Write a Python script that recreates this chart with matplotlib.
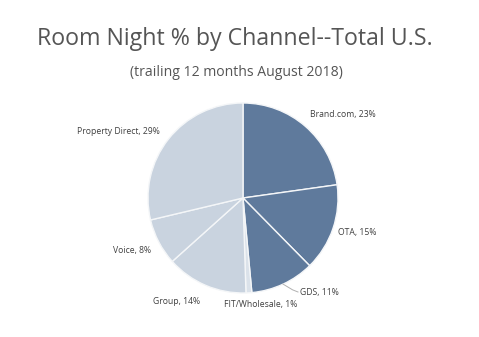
import numpy as np
import matplotlib
matplotlib.use("Agg")
import matplotlib.pyplot as plt

# === Data ===
channels = ["Brand.com", "OTA", "GDS", "FIT/Wholesale", "Group", "Voice", "Property Direct"]
shares = [23, 15, 11, 1, 14, 8, 29]
colors = ["#5f7a9c", "#5f7a9c", "#5f7a9c", "#dbe2ea", "#c9d3df", "#c9d3df", "#c9d3df"]

# label anchor positions in pixels (x, y from top) and alignment
label_pos = [(310, 115, "left"), (338, 233, "left"), (300, 292, "left"),
             (261, 305, "center"), (200, 301, "right"), (151, 251, "right"),
             (160, 131, "right")]

W, H = 479, 337
cx, cy, R = 243, 198, 95   # pie centre / radius in pixels

plt.rcParams["font.family"] = ["Open Sans", "DejaVu Sans"]

fig = plt.figure(figsize=(W / 100, H / 100), dpi=100)
ax = fig.add_axes([0, 0, 1, 1])

wedges, _ = ax.pie(shares, colors=colors, startangle=90, counterclock=False,
                   wedgeprops=dict(edgecolor="#f4f6f8", linewidth=1.0))

# pixel -> data helper (1 data unit = R pixels)
def to_data(px, py):
    return (px - cx) / R, (cy - py) / R

ax.set_xlim(-cx / R, (W - cx) / R)
ax.set_ylim((cy - H) / R, cy / R)
ax.set_aspect("auto")
ax.axis("off")

for name, val, (px, py, ha) in zip(channels, shares, label_pos):
    x, y = to_data(px, py)
    ax.text(x, y, f"{name}, {val}%", ha=ha, va="center", fontsize=6.2, color="#404040")

# leader line for GDS
w = wedges[2]
mid = np.deg2rad((w.theta1 + w.theta2) / 2)
x0, y0 = np.cos(mid), np.sin(mid)
x1, y1 = to_data(298, 292)
ax.plot([x0, x0 + 0.1, x1], [y0, y0 - 0.06, y1], color="#b0b0b0", lw=0.7)

fig.text(235 / W, 1 - 39 / H, "Room Night % by Channel--Total U.S.", ha="center", va="center",
         fontsize=16.7, color="#555555")
fig.text(236 / W, 1 - 72 / H, "(trailing 12 months August 2018)", ha="center", va="center",
         fontsize=10.1, color="#555555")

plt.savefig("out.png", dpi=100)
